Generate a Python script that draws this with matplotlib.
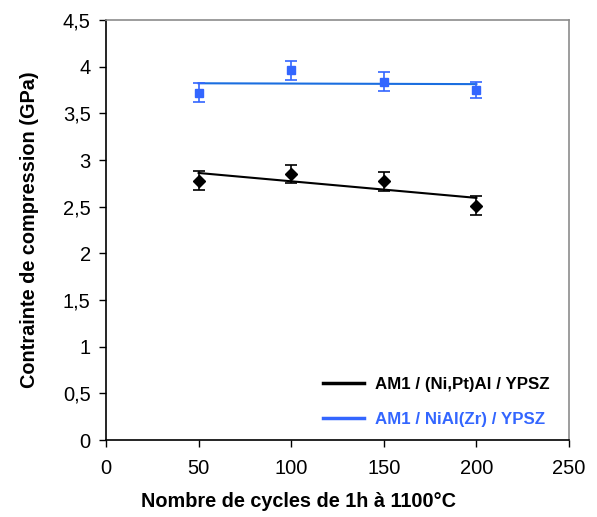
import numpy as np
import matplotlib
matplotlib.use("Agg")
import matplotlib.pyplot as plt

plt.rcParams['font.family'] = ['Liberation Sans', 'DejaVu Sans']

cycles = [50, 100, 150, 200]
ptal_values = [2.78, 2.85, 2.77, 2.51]
ptal_err = [0.10, 0.10, 0.10, 0.10]
zr_values = [3.72, 3.96, 3.84, 3.75]
zr_err = [0.10, 0.10, 0.10, 0.09]

series_labels = ["AM1 / (Ni,Pt)Al / YPSZ", "AM1 / NiAl(Zr) / YPSZ"]
xticks = [0, 50, 100, 150, 200, 250]
xtick_labels = ["0", "50", "100", "150", "200", "250"]
yticks = [0, 0.5, 1, 1.5, 2, 2.5, 3, 3.5, 4, 4.5]
ytick_labels = ["0", "0,5", "1", "1,5", "2", "2,5", "3", "3,5", "4", "4,5"]

fig = plt.figure(figsize=(5.97, 5.17), dpi=100)
ax = fig.add_axes([106/597, 77/517, 463/597, 420/517])

black = "#000000"
blue_m = "#3366ff"
blue_l = "#1a6ee0"

ax.errorbar(cycles, ptal_values, yerr=ptal_err, fmt='D', color=black, ms=6,
            ecolor=black, elinewidth=1.2, capsize=4, capthick=1.2, zorder=3)
ax.errorbar(cycles, zr_values, yerr=zr_err, fmt='s', color=blue_m, ms=6,
            ecolor=blue_m, elinewidth=1.2, capsize=4, capthick=1.2, zorder=3)

x = np.array(cycles, dtype=float)
p1 = np.polyfit(x, ptal_values, 1)
p2 = np.polyfit(x, zr_values, 1)
xl = np.array([x.min(), x.max()])
ax.plot(xl, np.polyval(p1, xl), color=black, lw=1.5)
ax.plot(xl, np.polyval(p2, xl), color=blue_l, lw=1.5)

ax.set_xlim(0, 250)
ax.set_ylim(0, 4.5)
ax.set_xticks(xticks)
ax.set_xticklabels(xtick_labels)
ax.set_yticks(yticks)
ax.set_yticklabels(ytick_labels)
ax.tick_params(axis='both', direction='out', length=5, width=1, labelsize=14.5, pad=6)
ax.tick_params(axis='x', pad=9)

for s in ['left', 'bottom']:
    ax.spines[s].set_color('black')
    ax.spines[s].set_linewidth(1.2)
for s in ['top', 'right']:
    ax.spines[s].set_color('#8c8c8c')
    ax.spines[s].set_linewidth(1.2)

ax.set_xlabel("Nombre de cycles de 1h à 1100°C", fontsize=14.3, fontweight='bold', labelpad=10)
ax.xaxis.label.set_x((298.5 - 106) / 463)
ax.set_ylabel("Contrainte de compression (GPa)", fontsize=14.3, fontweight='bold', labelpad=17)

leg_l1 = matplotlib.lines.Line2D([], [], color=black, lw=2.5)
leg_l2 = matplotlib.lines.Line2D([], [], color=blue_m, lw=2.5)
leg = ax.legend([leg_l1, leg_l2], series_labels, loc='lower right',
                bbox_to_anchor=(0.959, 0.03), frameon=False,
                prop={'weight': 'bold', 'size': 12.2}, handlelength=2.4,
                labelspacing=1.2, handletextpad=0.7, borderpad=0, borderaxespad=0)
for t, c in zip(leg.get_texts(), [black, blue_m]):
    t.set_color(c)

fig.savefig("out.png", dpi=100)
